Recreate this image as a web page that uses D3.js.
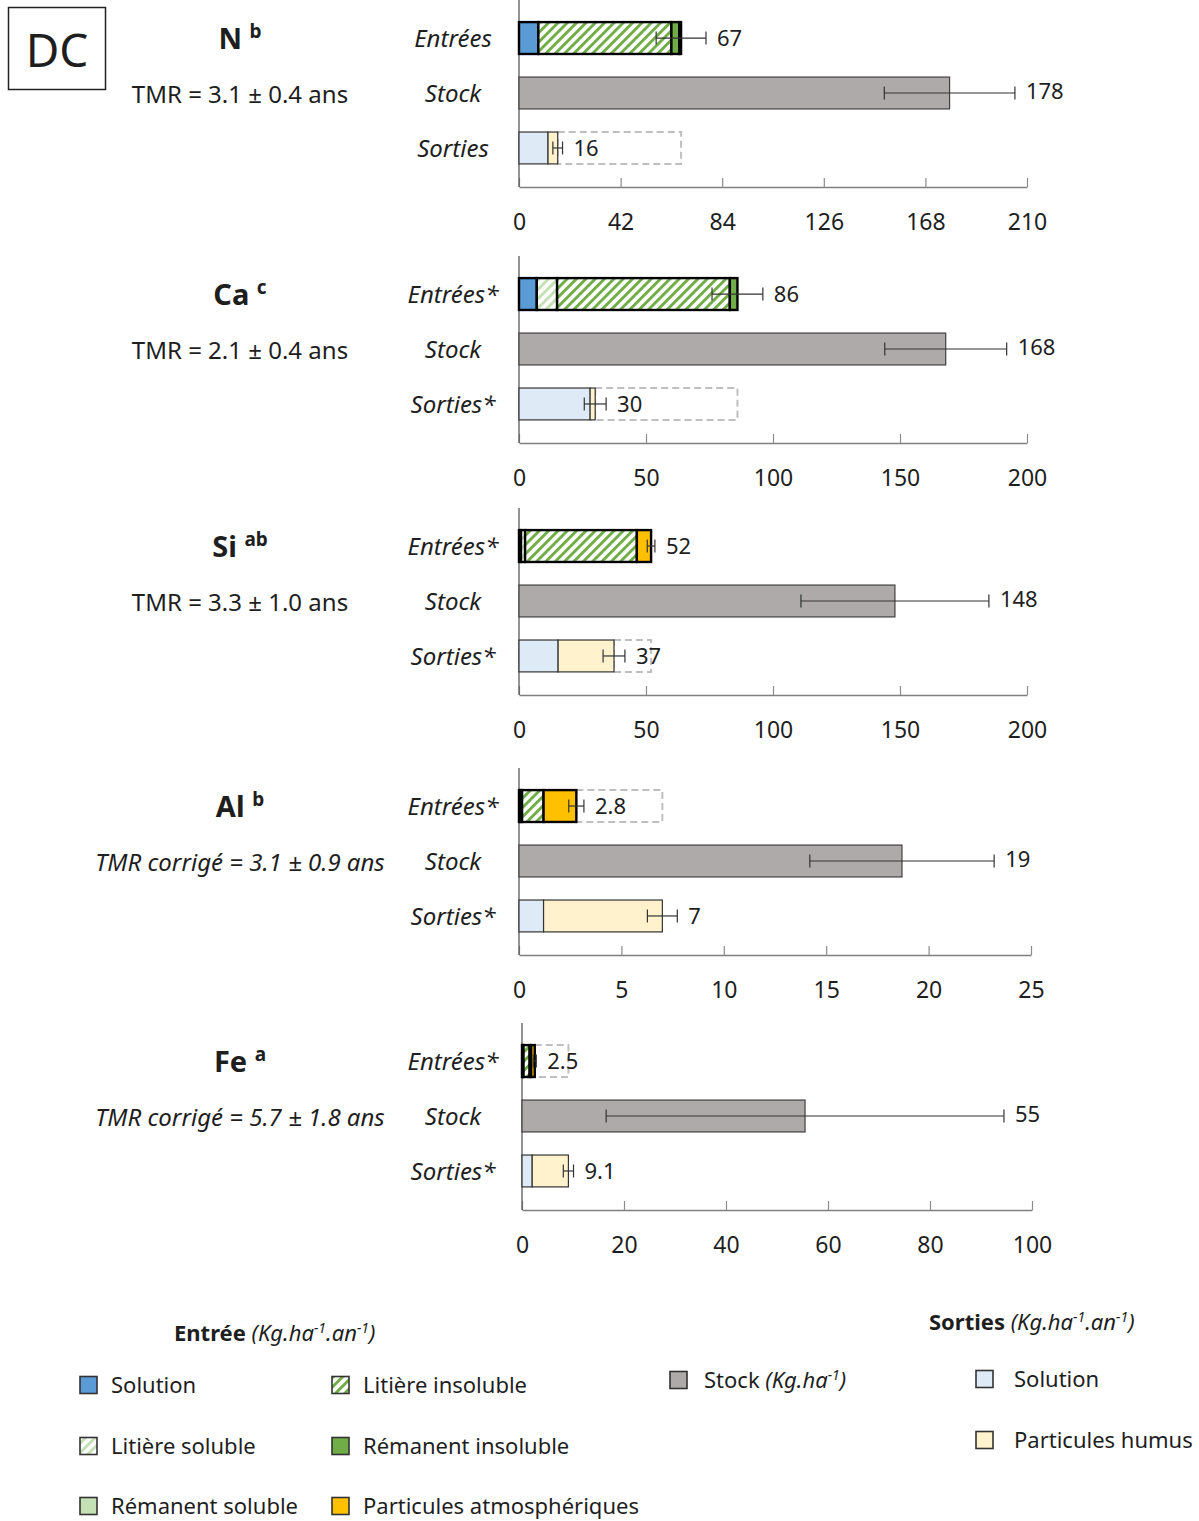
<!DOCTYPE html>
<html>
<head>
<meta charset="utf-8">
<script src="https://cdn.jsdelivr.net/npm/d3@7"></script>
<style>
  body { margin: 0; background: #fff; }
  svg text { font-family: "Noto Sans", sans-serif; fill: #1e1e1e; }
</style>
</head>
<body>
<svg id="chart" width="1199" height="1521"></svg>
<script>
// ---- data ----
var elements = ["N", "Ca", "Si", "Al", "Fe"];
var elementSup = ["b", "c", "ab", "b", "a"];
var tmrText = ["TMR = 3.1 ± 0.4 ans", "TMR = 2.1 ± 0.4 ans", "TMR = 3.3 ± 1.0 ans",
               "TMR corrigé = 3.1 ± 0.9 ans", "TMR corrigé = 5.7 ± 1.8 ans"];
var tmrCorrected = [false, false, false, true, true];
var rowLabels = [["Entrées", "Stock", "Sorties"],
                 ["Entrées*", "Stock", "Sorties*"],
                 ["Entrées*", "Stock", "Sorties*"],
                 ["Entrées*", "Stock", "Sorties*"],
                 ["Entrées*", "Stock", "Sorties*"]];
var axisTicks = [[0, 42, 84, 126, 168, 210],
                 [0, 50, 100, 150, 200],
                 [0, 50, 100, 150, 200],
                 [0, 5, 10, 15, 20, 25],
                 [0, 20, 40, 60, 80, 100]];

// Entrées (Kg.ha-1.an-1), one value per element
var entreeSolution           = [8, 7, 0.8, 0.05, 0.1];
var entreeLitiereSoluble     = [0, 8, 1.6, 0.1, 0.2];
var entreeLitiereInsoluble   = [55, 68, 44, 1.05, 1.2];
var entreeRemanentSoluble    = [0, 0, 0, 0, 0];
var entreeRemanentInsoluble  = [3.3, 3, 0, 0, 0.3];
var entreeParticules         = [0.7, 0, 5.6, 1.6, 0.7];
var entreeError  = [10.3, 10, 1.5, 0.37, 0.3];
var entreeLabels = ["67", "86", "52", "2.8", "2.5"];

// Stock (Kg.ha-1)
var stockValues = [178, 168, 148, 18.7, 55.5];
var stockError  = [27, 24, 37, 4.5, 39];
var stockLabels = ["178", "168", "148", "19", "55"];

// Sorties (Kg.ha-1.an-1)
var sortieSolution = [12, 28, 15.4, 1.2, 2];
var sortieHumus    = [4, 2, 22, 5.8, 7.1];
var sortieError    = [2, 4.3, 4.3, 0.73, 1];
var sortieLabels   = ["16", "30", "37", "7", "9.1"];

// ---- layout ----
var panelTop = [0, 256, 508, 768, 1023];
var panelX0 = [519, 519, 519, 519, 522];
var panelX1 = [1027, 1027, 1027, 1031, 1032];

var svg = d3.select("#chart");
var defs = svg.append("defs");

function hatch(id, color) {
    var p = defs.append("pattern")
        .attr("id", id)
        .attr("patternUnits", "userSpaceOnUse")
        .attr("width", 6.6).attr("height", 6.6)
        .attr("patternTransform", "rotate(45)");
    p.append("rect").attr("width", 6.6).attr("height", 6.6).attr("fill", "#fff");
    p.append("rect").attr("width", 2.9).attr("height", 6.6).attr("fill", color);
}
hatch("hatchIns", "#70ad47");
hatch("hatchSol", "#c5e0b4");

var entreeFills = ["#5b9bd5", "url(#hatchSol)", "url(#hatchIns)", "#c5e0b4", "#70ad47", "#ffc000"];
var entreeArrays = [entreeSolution, entreeLitiereSoluble, entreeLitiereInsoluble,
                    entreeRemanentSoluble, entreeRemanentInsoluble, entreeParticules];

// DC box
svg.append("rect").attr("x", 8.5).attr("y", 7.5).attr("width", 97).attr("height", 82)
    .attr("fill", "none").attr("stroke", "#222").attr("stroke-width", 1.5);
svg.append("text").attr("x", 57).attr("y", 50).attr("dy", "0.36em").attr("text-anchor", "middle")
    .style("font-size", "46px").text("DC");

function drawPanel(i) {
    var top = panelTop[i];
    var g = svg.append("g").attr("transform", "translate(0," + top + ")");
    var ticks = axisTicks[i];

    var x = d3.scaleLinear()
        .domain([0, ticks[ticks.length - 1]])
        .range([panelX0[i], panelX1[i]]);
    var y = d3.scaleBand()
        .domain(["Entrées", "Stock", "Sorties"])
        .range([10, 176])
        .paddingInner(0.42)
        .paddingOuter(0.22);
    var bh = y.bandwidth();
    var axisY = 187;

    // title + TMR
    var t = g.append("text").attr("x", 240).attr("y", y("Entrées") + bh / 2 + 5)
        .attr("dy", "0.36em").attr("text-anchor", "middle");
    t.append("tspan").style("font-size", "29px").style("font-weight", "bold").text(elements[i] + " ");
    t.append("tspan").style("font-size", "19px").style("font-weight", "bold")
        .attr("dy", -11).text(elementSup[i]);
    g.append("text").attr("x", 240).attr("y", y("Stock") + bh / 2 + 1)
        .attr("dy", "0.36em").attr("text-anchor", "middle")
        .style("font-size", "24px")
        .style("font-style", tmrCorrected[i] ? "italic" : "normal")
        .text(tmrText[i]);

    // row labels
    ["Entrées", "Stock", "Sorties"].forEach(function (r, k) {
        g.append("text").attr("x", 453).attr("y", y(r) + bh / 2)
            .attr("dy", "0.36em").attr("text-anchor", "middle")
            .style("font-size", "24px").style("font-style", "italic")
            .text(rowLabels[i][k]);
    });

    // axis
    var ax = g.append("g").attr("transform", "translate(0," + axisY + ")")
        .call(d3.axisBottom(x).tickValues(ticks).tickSizeInner(-9).tickSizeOuter(0).tickPadding(27));
    ax.select(".domain").attr("stroke", "#7f7f7f").attr("stroke-width", 1.3);
    ax.selectAll(".tick line").attr("stroke", "#8c8c8c").attr("stroke-width", 1.2);
    ax.selectAll(".tick text").style("font-size", "23px").style("font-family", "Noto Sans").attr("fill", "#1e1e1e");
    g.append("line").attr("x1", x(0)).attr("x2", x(0)).attr("y1", 0).attr("y2", axisY)
        .attr("stroke", "#595959").attr("stroke-width", 1.3);

    // entrées stacked
    var entreeTotal = 0;
    var segs = [];
    entreeArrays.forEach(function (arr, k) {
        if (arr[i] > 0) segs.push({ x0: entreeTotal, x1: entreeTotal + arr[i], fill: entreeFills[k] });
        entreeTotal += arr[i];
    });
    var sortieTotal = sortieSolution[i] + sortieHumus[i];

    // dashed comparison box
    var dashRow = entreeTotal < sortieTotal ? "Entrées" : "Sorties";
    var dashFrom = Math.min(entreeTotal, sortieTotal), dashTo = Math.max(entreeTotal, sortieTotal);
    g.append("rect").attr("x", x(dashFrom)).attr("y", y(dashRow))
        .attr("width", x(dashTo) - x(dashFrom)).attr("height", bh)
        .attr("fill", "none").attr("stroke", "#bfbfbf").attr("stroke-width", 2)
        .attr("stroke-dasharray", "7,4");

    g.selectAll(".eseg").data(segs).enter().append("rect")
        .attr("x", function (d) { return x(d.x0); })
        .attr("y", y("Entrées"))
        .attr("width", function (d) { return x(d.x1) - x(d.x0); })
        .attr("height", bh)
        .attr("fill", function (d) { return d.fill; })
        .attr("stroke", "#000").attr("stroke-width", 2.4);

    // stock
    g.append("rect").attr("x", x(0)).attr("y", y("Stock"))
        .attr("width", x(stockValues[i]) - x(0)).attr("height", bh)
        .attr("fill", "#aeaaaa").attr("stroke", "#404040").attr("stroke-width", 1.2);

    // sorties stacked
    var sSegs = [
        { x0: 0, x1: sortieSolution[i], fill: "#deebf7" },
        { x0: sortieSolution[i], x1: sortieTotal, fill: "#fff2cc" }
    ];
    g.selectAll(".sseg").data(sSegs).enter().append("rect")
        .attr("x", function (d) { return x(d.x0); })
        .attr("y", y("Sorties"))
        .attr("width", function (d) { return x(d.x1) - x(d.x0); })
        .attr("height", bh)
        .attr("fill", function (d) { return d.fill; })
        .attr("stroke", "#333").attr("stroke-width", 1.2);

    // error bars + value labels
    var rows = [
        { r: "Entrées", v: entreeTotal, e: entreeError[i], lab: entreeLabels[i] },
        { r: "Stock", v: stockValues[i], e: stockError[i], lab: stockLabels[i] },
        { r: "Sorties", v: sortieTotal, e: sortieError[i], lab: sortieLabels[i] }
    ];
    rows.forEach(function (d) {
        var cy = y(d.r) + bh / 2;
        var eb = g.append("g").attr("stroke", "#333").attr("stroke-width", 1.2);
        eb.append("line").attr("x1", x(d.v - d.e)).attr("x2", x(d.v + d.e)).attr("y1", cy).attr("y2", cy);
        [d.v - d.e, d.v + d.e].forEach(function (xv) {
            eb.append("line").attr("x1", x(xv)).attr("x2", x(xv)).attr("y1", cy - 6.5).attr("y2", cy + 6.5);
        });
        g.append("text").attr("x", x(d.v + d.e) + 11).attr("y", cy - (d.r == "Stock" ? 2 : 0))
            .attr("dy", "0.36em").style("font-size", "22px").text(d.lab);
    });
}

elements.forEach(function (e, i) { drawPanel(i); });

// ---- legend ----
var leg = svg.append("g");

// writes "name (Kg.ha-1.an-1)" with real superscripts
function unitText(name, x, yy, bold, parts) {
    var t = leg.append("text").attr("x", x).attr("y", yy).attr("dy", "0.36em")
        .style("font-size", "22px");
    t.append("tspan").style("font-weight", bold ? "bold" : "normal").text(name + " ");
    var shift = 0;
    parts.forEach(function (p) {
        var s = t.append("tspan").style("font-style", "italic");
        if (p.sup) {
            s.style("font-size", "14px").attr("dy", -8 - shift).text(p.t);
            shift = -8;
        } else {
            s.attr("dy", -shift).text(p.t);
            shift = 0;
        }
    });
}
var rateUnit = [{ t: "(Kg.ha" }, { t: "-1", sup: true }, { t: ".an" }, { t: "-1", sup: true }, { t: ")" }];
unitText("Entrée", 174, 1333, true, rateUnit);
unitText("Sorties", 929, 1322, true, rateUnit);

var legendItems = [
    { name: "Solution", fill: entreeFills[0], sx: 80, tx: 111, y: 1385 },
    { name: "Litière soluble", fill: entreeFills[1], sx: 80, tx: 111, y: 1446 },
    { name: "Rémanent soluble", fill: entreeFills[3], sx: 80, tx: 111, y: 1506 },
    { name: "Litière insoluble", fill: entreeFills[2], sx: 332, tx: 363, y: 1385 },
    { name: "Rémanent insoluble", fill: entreeFills[4], sx: 332, tx: 363, y: 1446 },
    { name: "Particules atmosphériques", fill: entreeFills[5], sx: 332, tx: 363, y: 1506 },
    { name: "Stock", fill: "#aeaaaa", sx: 670, tx: 704, y: 1380 },
    { name: "Solution", fill: "#deebf7", sx: 976, tx: 1014, y: 1379 },
    { name: "Particules humus", fill: "#fff2cc", sx: 976, tx: 1014, y: 1440 }
];
legendItems.forEach(function (d) {
    leg.append("rect").attr("x", d.sx).attr("y", d.y - 8.5).attr("width", 17).attr("height", 17)
        .attr("fill", d.fill).attr("stroke", "#333").attr("stroke-width", 1.6);
    if (d.name == "Stock") {
        unitText("Stock", d.tx, d.y, false, [{ t: "(Kg.ha" }, { t: "-1", sup: true }, { t: ")" }]);
    } else {
        leg.append("text").attr("x", d.tx).attr("y", d.y).attr("dy", "0.36em")
            .style("font-size", "22px").text(d.name);
    }
});
</script>
</body>
</html>
